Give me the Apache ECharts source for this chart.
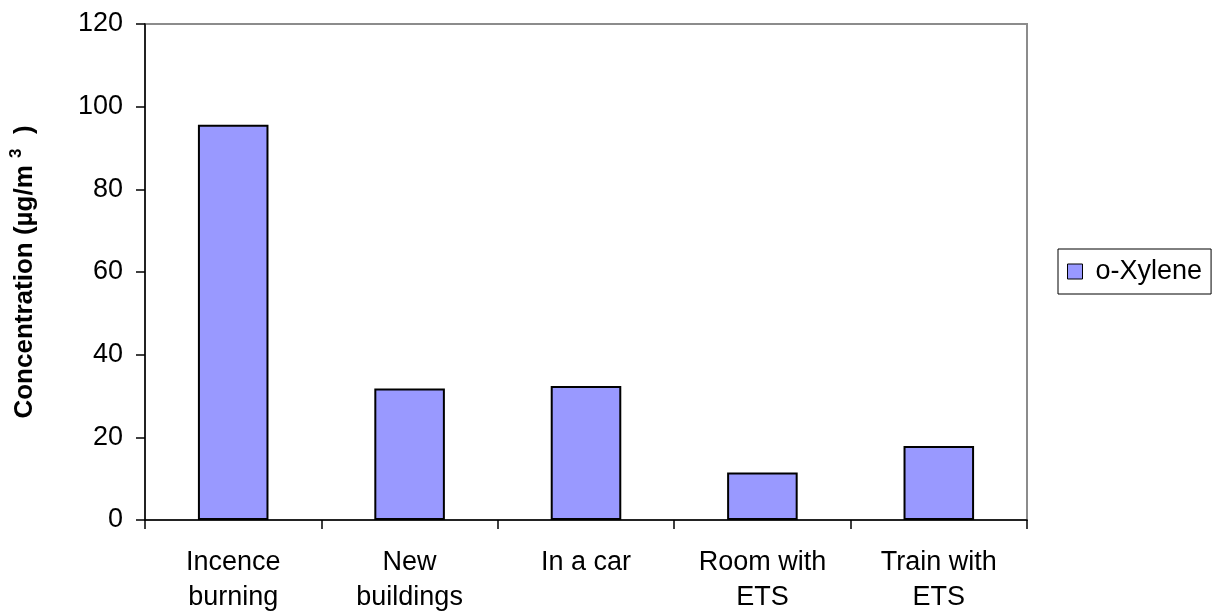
<!DOCTYPE html>
<html>
<head>
<meta charset="utf-8">
<style>
  html, body { margin: 0; padding: 0; background: #ffffff; }
  #chart { width: 1212px; height: 615px; }
</style>
<script src="https://cdn.jsdelivr.net/npm/echarts@6/dist/echarts.min.js"></script>
</head>
<body>
<div id="chart"></div>
<script>
// Indoor o-xylene concentrations by microenvironment (µg/m³)
const categories = ['Incence\nburning', 'New\nbuildings', 'In a car', 'Room with\nETS', 'Train with\nETS'];
const seriesName = 'o-Xylene';
const oXylene = [95.6, 31.8, 32.4, 11.5, 17.9];
const yTicks = { min: 0, max: 120, interval: 20 };

const FONT = '"Liberation Sans", Arial, sans-serif';

const chart = echarts.init(document.getElementById('chart'), null, { renderer: 'canvas' });

chart.setOption({
  animation: false,
  backgroundColor: '#ffffff',
  textStyle: { fontFamily: FONT },
  grid: {
    left: 145, right: 185, top: 24, bottom: 94,
    show: true, borderColor: '#8c8c8c', borderWidth: 2, backgroundColor: 'transparent'
  },
  legend: {
    data: [seriesName],
    left: 1058, top: 249,
    orient: 'vertical',
    icon: 'rect',
    itemWidth: 15, itemHeight: 15, itemGap: 0,
    padding: [9, 9, 9, 9],
    borderColor: '#000000', borderWidth: 1, borderRadius: 0,
    backgroundColor: '#ffffff',
    textStyle: { fontFamily: FONT, fontSize: 27, color: '#000000', padding: [0, 0, 0, 8] },
    itemStyle: { borderColor: '#000000', borderWidth: 1 }
  },
  xAxis: {
    type: 'category',
    data: categories,
    boundaryGap: true,
    axisLine: { lineStyle: { color: '#000000', width: 1.5 } },
    axisTick: { show: true, alignWithLabel: false, length: 9, inside: false, lineStyle: { color: '#000000', width: 1.5 } },
    axisLabel: {
      color: '#000000', fontFamily: FONT, fontSize: 27, lineHeight: 35,
      margin: 25, interval: 0
    },
    splitLine: { show: false }
  },
  yAxis: {
    type: 'value',
    min: yTicks.min, max: yTicks.max, interval: yTicks.interval,
    axisLine: { show: true, lineStyle: { color: '#000000', width: 1.5 } },
    axisTick: { show: true, length: 9, lineStyle: { color: '#000000', width: 1.5 } },
    axisLabel: { color: '#000000', fontFamily: FONT, fontSize: 27, margin: 22 },
    splitLine: { show: false },
    name: 'Concentration (µg/m {sup|3}  )',
    nameLocation: 'middle',
    nameGap: 104,
    nameRotate: 90,
    nameTextStyle: {
      fontFamily: FONT, fontSize: 26, fontWeight: 'bold', color: '#000000',
      rich: {
        sup: { fontFamily: FONT, fontSize: 17, fontWeight: 'bold', color: '#000000', verticalAlign: 'top', padding: [0, 0, 16, 0] }
      }
    }
  },
  series: [{
    name: seriesName,
    type: 'bar',
    data: oXylene,
    barWidth: '40%',
    itemStyle: { color: '#9999ff', borderColor: '#000000', borderWidth: 2 }
  }]
});
</script>
</body>
</html>
